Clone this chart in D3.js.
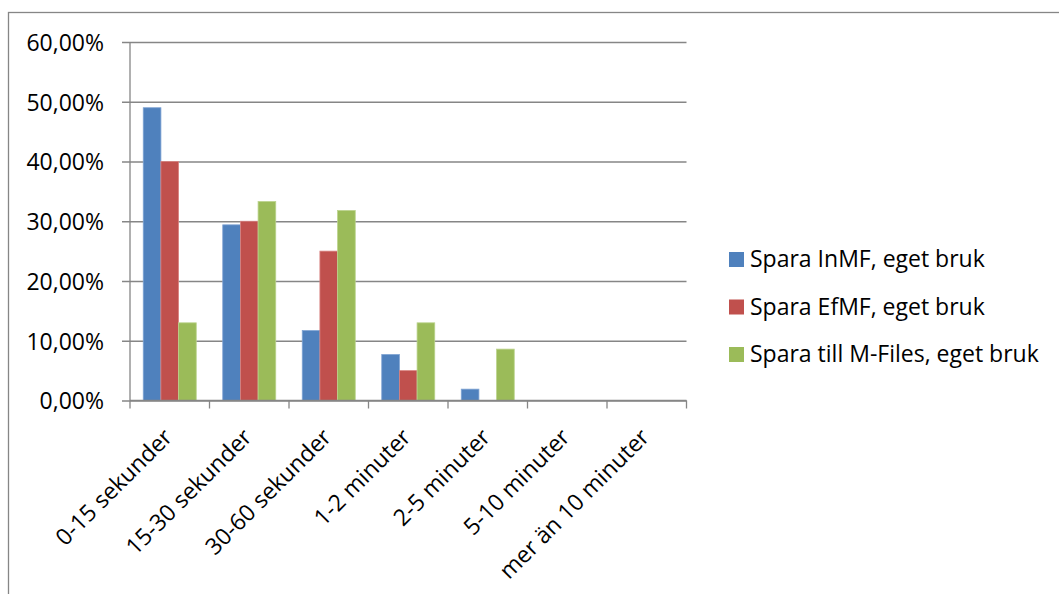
<!DOCTYPE html>
<html>
<head>
<meta charset="utf-8">
<script src="https://cdn.jsdelivr.net/npm/d3@7"></script>
<style>
  html, body { margin: 0; padding: 0; background: #fff; }
  svg { display: block; }
  text { font-family: "Open Sans", Lato, sans-serif; fill: #000; }
</style>
</head>
<body>
<svg id="chart" width="1059" height="594"></svg>
<script>
// Answer categories (time needed to save a document)
const categories = ["0-15 sekunder", "15-30 sekunder", "30-60 sekunder", "1-2 minuter", "2-5 minuter", "5-10 minuter", "mer än 10 minuter"];
// Series names as shown in the legend
const seriesNames = ["Spara InMF, eget bruk", "Spara EfMF, eget bruk", "Spara till M-Files, eget bruk"];
// Share of answers per category (fractions)
const inmfValues  = [0.49, 0.294, 0.117, 0.077, 0.019, 0, 0];
const efmfValues  = [0.40, 0.30, 0.25, 0.05, 0, 0, 0];
const mfilesValues = [0.13, 0.333, 0.318, 0.13, 0.086, 0, 0];
// Value axis ticks
const yTicks = [0, 0.1, 0.2, 0.3, 0.4, 0.5, 0.6];
const seriesColors = ["#4F81BD", "#C0504D", "#9BBB59"];
const seriesEdges  = ["#7FA3D3", "#D98381", "#BBD38C"];

const seriesValues = [inmfValues, efmfValues, mfilesValues];

const FONT = 23;
const svg = d3.select("#chart");
const plot = { left: 130, right: 686.5, top: 42, bottom: 400.5 };

// Outer chart frame (extends past the right and bottom edges)
svg.append("rect")
  .attr("x", 8.5).attr("y", 12.5)
  .attr("width", 1200).attr("height", 800)
  .attr("fill", "none").attr("stroke", "#868686").attr("stroke-width", 1.3);

const x = d3.scaleBand().domain(categories).range([plot.left, plot.right]).paddingInner(0).paddingOuter(0);
const xInner = d3.scaleBand().domain(d3.range(seriesNames.length)).range([0, x.bandwidth()]).paddingInner(0).paddingOuter(0.75);
const y = d3.scaleLinear().domain([0, 0.6]).range([plot.bottom, plot.top]);

const locale = d3.formatLocale({ decimal: ",", thousands: " ", grouping: [3], currency: ["", " kr"] });
const pct = locale.format(".2%");

// Horizontal gridlines with left tick marks and labels
const yAxis = d3.axisLeft(y)
  .tickValues(yTicks)
  .tickFormat(pct)
  .tickSize(-(plot.right - plot.left))
  .tickPadding(26);
const gy = svg.append("g").attr("transform", `translate(${plot.left},0)`).call(yAxis);
gy.select(".domain").remove();
gy.selectAll(".tick line")
  .attr("x1", -8)
  .attr("stroke", "#868686").attr("stroke-width", 1.3);
gy.selectAll(".tick text")
  .attr("font-size", FONT).attr("font-family", "'Open Sans', Lato, sans-serif")
  .attr("fill", "#000").attr("dy", "0.36em");

// Bars
const groups = svg.append("g").selectAll("g")
  .data(seriesValues)
  .join("g")
  .attr("fill", (d, i) => seriesColors[i])
  .attr("stroke", (d, i) => seriesEdges[i]);

groups.selectAll("rect")
  .data((vals, si) => vals.map((v, ci) => ({ v, ci, si })))
  .join("rect")
  .filter(d => d.v > 0)
  .attr("x", d => x(categories[d.ci]) + xInner(d.si))
  .attr("width", xInner.bandwidth())
  .attr("y", d => y(d.v))
  .attr("height", d => y(0) - y(d.v))
  .attr("stroke-width", 0.8);

// Category axis: baseline and tick marks at band edges
const xAxis = d3.axisBottom(x).tickSize(0).tickFormat("");
const gx = svg.append("g").attr("transform", `translate(0,${plot.bottom})`).call(xAxis);
gx.select(".domain").attr("stroke", "#868686").attr("stroke-width", 1.3)
  .attr("d", `M${plot.left},0H${plot.right}`);
gx.selectAll(".tick").remove();

const edges = categories.map(c => x(c)).concat([plot.right]);
svg.append("g").selectAll("line")
  .data(edges)
  .join("line")
  .attr("x1", d => d).attr("x2", d => d)
  .attr("y1", plot.bottom).attr("y2", plot.bottom + 8)
  .attr("stroke", "#868686").attr("stroke-width", 1.3);

// Value axis line
svg.append("line")
  .attr("x1", plot.left).attr("x2", plot.left)
  .attr("y1", plot.top).attr("y2", plot.bottom)
  .attr("stroke", "#868686").attr("stroke-width", 1.3);

// Rotated category labels
svg.append("g").selectAll("text")
  .data(categories)
  .join("text")
  .attr("transform", d => `translate(${x(d) + x.bandwidth() / 2 + 4},${plot.bottom + 38}) rotate(-45)`)
  .attr("text-anchor", "end")
  .attr("font-size", FONT)
  .text(d => d);

// Legend
const legend = svg.append("g").attr("transform", "translate(729,252)");
const items = legend.selectAll("g")
  .data(seriesNames)
  .join("g")
  .attr("transform", (d, i) => `translate(0,${i * 47.5})`);
items.append("rect")
  .attr("width", 15).attr("height", 15)
  .attr("fill", (d, i) => seriesColors[i]);
items.append("text")
  .attr("x", 21).attr("y", 15)
  .attr("font-size", FONT)
  .text(d => d);
</script>
</body>
</html>
